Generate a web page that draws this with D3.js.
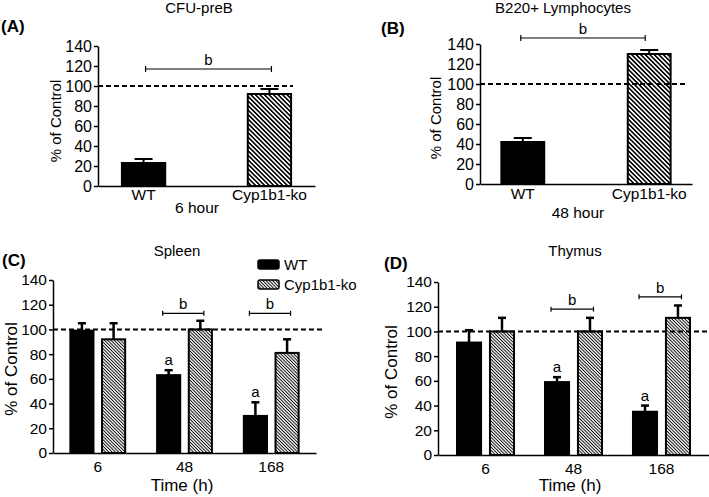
<!DOCTYPE html>
<html><head><meta charset="utf-8">
<script src="https://cdn.jsdelivr.net/npm/d3@7"></script>
<style>
body{margin:0;background:#fff}
svg{display:block}
text{font-family:Arial,"Liberation Sans",sans-serif;fill:#000}
</style>
</head><body>
<svg id="chart" width="709" height="497"></svg>
<script>
// ---------- data ----------
const yTicks = [0, 20, 40, 60, 80, 100, 120, 140];
const genotypes = ["WT", "Cyp1b1-ko"];
const timeLabels = ["6", "48", "168"];

const cfuValues = [23, 92];
const cfuErrors = [4, 5];
const b220Values = [42, 130];
const b220Errors = [4, 4];

const spleenWT = [99, 63, 30];
const spleenWTErr = [6, 4, 11];
const spleenKO = [92, 100, 81];
const spleenKOErr = [13, 7, 11];

const thymusWT = [91, 59, 35];
const thymusWTErr = [10, 4, 5];
const thymusKO = [100, 100, 111];
const thymusKOErr = [11, 11, 10];

const spleenMarks = ["", "a", "a"];
const thymusMarks = ["", "a", "a"];
const spleenBrackets = [null, 113, 113];
const thymusBrackets = [null, 118, 128];
const cfuBracket = 117;
const b220Bracket = 146;
const controlLevel = 100;

// ---------- setup ----------
const svg = d3.select("#chart");
const defs = svg.append("defs");
function hatch(id, s, w) {
  const p = defs.append("pattern").attr("id", id).attr("patternUnits", "userSpaceOnUse")
    .attr("width", s).attr("height", s).attr("patternTransform", "rotate(-45)");
  p.append("rect").attr("width", s).attr("height", s).attr("fill", "#fff");
  p.append("line").attr("x1", s / 2).attr("x2", s / 2).attr("y1", -1).attr("y2", s + 1)
    .attr("stroke", "#000").attr("stroke-width", w);
}
hatch("hatchBig", 3.2, 1.6);
hatch("hatchSmall", 2.3, 0.95);

function yAxis(g, y, x0, fs) {
  const ax = g.append("g").attr("transform", `translate(${x0},0)`)
    .call(d3.axisLeft(y).tickValues(yTicks).tickSize(4).tickSizeOuter(0).tickPadding(2));
  ax.selectAll("path,line").attr("stroke", "#000").attr("stroke-width", 1.5);
  ax.selectAll("text").attr("font-size", fs).attr("font-family", "Arial, 'Liberation Sans', sans-serif");
  return ax;
}
function xAxis(g, x, y0, pad, fs) {
  const ax = g.append("g").attr("transform", `translate(0,${y0})`)
    .call(d3.axisBottom(x).tickSize(0).tickSizeOuter(0).tickPadding(pad));
  ax.select(".domain").attr("stroke", "#000").attr("stroke-width", 1.5);
  ax.selectAll("text").attr("font-size", fs).attr("font-family", "Arial, 'Liberation Sans', sans-serif");
  return ax;
}
function errBar(g, cx, y, v, e, capW, sw) {
  g.append("line").attr("x1", cx).attr("x2", cx).attr("y1", y(v)).attr("y2", y(v + e))
    .attr("stroke", "#000").attr("stroke-width", sw);
  g.append("line").attr("x1", cx - capW / 2).attr("x2", cx + capW / 2).attr("y1", y(v + e)).attr("y2", y(v + e))
    .attr("stroke", "#000").attr("stroke-width", sw);
}
function bracket(g, x1, x2, yy, capH) {
  g.append("line").attr("x1", x1).attr("x2", x2).attr("y1", yy).attr("y2", yy).attr("stroke", "#000").attr("stroke-width", 1.2);
  [x1, x2].forEach(xx => g.append("line").attr("x1", xx).attr("x2", xx).attr("y1", yy - capH).attr("y2", yy + capH)
    .attr("stroke", "#000").attr("stroke-width", 1.2));
  g.append("text").attr("x", (x1 + x2) / 2).attr("y", yy - 4).attr("text-anchor", "middle").attr("font-size", 15).text("b");
}
function label(x, y, txt, size, opts = {}) {
  const t = svg.append("text").attr("x", x).attr("y", y).attr("font-size", size)
    .attr("text-anchor", opts.anchor || "middle").text(txt);
  if (opts.bold) t.attr("font-weight", "bold");
  if (opts.rotate) t.attr("transform", `rotate(-90,${x},${y})`);
  return t;
}

// ---------- panels A & B ----------
function simplePanel(cfg) {
  const g = svg.append("g");
  const y = d3.scaleLinear().domain([0, 140]).range([cfg.y0, cfg.y1]);
  const x = d3.scaleBand().domain(genotypes).range([cfg.x0, cfg.x1])
    .paddingInner(cfg.pi).paddingOuter(cfg.po);
  const bw = x.bandwidth();
  genotypes.forEach((k, i) => {
    g.append("rect").attr("x", x(k)).attr("width", bw).attr("y", y(cfg.values[i]))
      .attr("height", y(0) - y(cfg.values[i]))
      .attr("fill", i === 0 ? "#000" : "url(#hatchBig)").attr("stroke", "#000").attr("stroke-width", 2);
    errBar(g, x(k) + bw / 2, y, cfg.values[i], cfg.errors[i], 18, 2);
  });
  yAxis(g, y, cfg.x0, 16);
  xAxis(g, x, cfg.y0, cfg.tp, 15.5);
  g.append("line").attr("x1", cfg.x0).attr("x2", cfg.dashEnd).attr("y1", y(controlLevel)).attr("y2", y(controlLevel))
    .attr("stroke", "#000").attr("stroke-width", 2).attr("stroke-dasharray", "5,3");
  bracket(g, x(genotypes[0]) + bw / 2 + cfg.bOff[0], x(genotypes[1]) + bw / 2 + cfg.bOff[1], y(cfg.bracket), 3);
}
simplePanel({x0: 98, x1: 315, y0: 186, y1: 46, pi: 0.656, po: 0.19, tp: 3,
  values: cfuValues, errors: cfuErrors, bracket: cfuBracket, dashEnd: 293, bOff: [2, 2]});
simplePanel({x0: 480, x1: 692, y0: 184, y1: 44, pi: 0.661, po: 0.169, tp: 4,
  values: b220Values, errors: b220Errors, bracket: b220Bracket, dashEnd: 686, bOff: [-2, -4]});

label(199, 13, "CFU-preB", 15);
label(563, 13, "B220+ Lymphocytes", 15);
label(1, 32, "(A)", 17, {anchor: "start", bold: true});
label(381, 34, "(B)", 17, {anchor: "start", bold: true});
label(197, 213, "6 hour", 15.5);
label(578, 218, "48 hour", 15.5);
label(61, 121, "% of Control", 15, {rotate: true});
label(441, 118, "% of Control", 15, {rotate: true});

// ---------- panels C & D ----------
function groupedPanel(cfg) {
  const g = svg.append("g");
  const y = d3.scaleLinear().domain([0, 140]).range([cfg.y0, cfg.y1]);
  const x = d3.scaleBand().domain(timeLabels).range([cfg.x0, cfg.x1])
    .paddingInner(cfg.pi).paddingOuter(cfg.po);
  const xi = d3.scaleBand().domain(genotypes).range([0, x.bandwidth()]).paddingInner(0.27).paddingOuter(0);
  const bw = xi.bandwidth();
  timeLabels.forEach((t, i) => {
    const series = [[cfg.wt[i], cfg.wtErr[i]], [cfg.ko[i], cfg.koErr[i]]];
    series.forEach(([v, e], j) => {
      const bx = x(t) + xi(genotypes[j]);
      g.append("rect").attr("x", bx).attr("width", bw).attr("y", y(v)).attr("height", y(0) - y(v))
        .attr("fill", j === 0 ? "#000" : "url(#hatchSmall)").attr("stroke", "#000").attr("stroke-width", 2);
      errBar(g, bx + bw / 2, y, v, e, 8, 2.5);
    });
    if (cfg.marks[i]) {
      g.append("text").attr("x", x(t) + xi(genotypes[0]) + bw / 2).attr("y", y(cfg.wt[i] + cfg.wtErr[i]) - 5)
        .attr("text-anchor", "middle").attr("font-size", 15).text(cfg.marks[i]);
    }
    if (cfg.brackets[i] != null) {
      bracket(g, x(t) + xi(genotypes[0]) + bw / 2 - 6, x(t) + xi(genotypes[1]) + bw / 2 + 3.5, y(cfg.brackets[i]), 2.5);
    }
  });
  yAxis(g, y, cfg.x0, 15.5);
  xAxis(g, x, cfg.y0, 8, 15.5);
  g.append("line").attr("x1", cfg.x0).attr("x2", cfg.dashEnd).attr("y1", y(controlLevel)).attr("y2", y(controlLevel))
    .attr("stroke", "#000").attr("stroke-width", 2).attr("stroke-dasharray", "5,3");
}
groupedPanel({x0: 53, x1: 316, y0: 453, y1: 280, pi: 0.368, po: 0.2, dashEnd: 322,
  wt: spleenWT, wtErr: spleenWTErr, ko: spleenKO, koErr: spleenKOErr, marks: spleenMarks, brackets: spleenBrackets});
groupedPanel({x0: 438, x1: 709, y0: 455, y1: 282, pi: 0.352, po: 0.216, dashEnd: 709,
  wt: thymusWT, wtErr: thymusWTErr, ko: thymusKO, koErr: thymusKOErr, marks: thymusMarks, brackets: thymusBrackets});

label(177, 256, "Spleen", 15);
label(575, 256, "Thymus", 15);
label(2, 266, "(C)", 17, {anchor: "start", bold: true});
label(384, 269, "(D)", 17, {anchor: "start", bold: true});
label(182, 491, "Time (h)", 17);
label(570, 491, "Time (h)", 17);
label(17, 369, "% of Control", 17, {rotate: true});
label(397, 372, "% of Control", 17, {rotate: true});

// legend
const legend = svg.append("g");
genotypes.forEach((k, i) => {
  legend.append("rect").attr("x", 258).attr("y", 260 + i * 20).attr("width", 21).attr("height", 9).attr("rx", 2)
    .attr("fill", i === 0 ? "#000" : "url(#hatchSmall)").attr("stroke", "#000").attr("stroke-width", 1.5);
  legend.append("text").attr("x", 284).attr("y", 270 + i * 20).attr("font-size", 15).text(k);
});
</script>
</body></html>
